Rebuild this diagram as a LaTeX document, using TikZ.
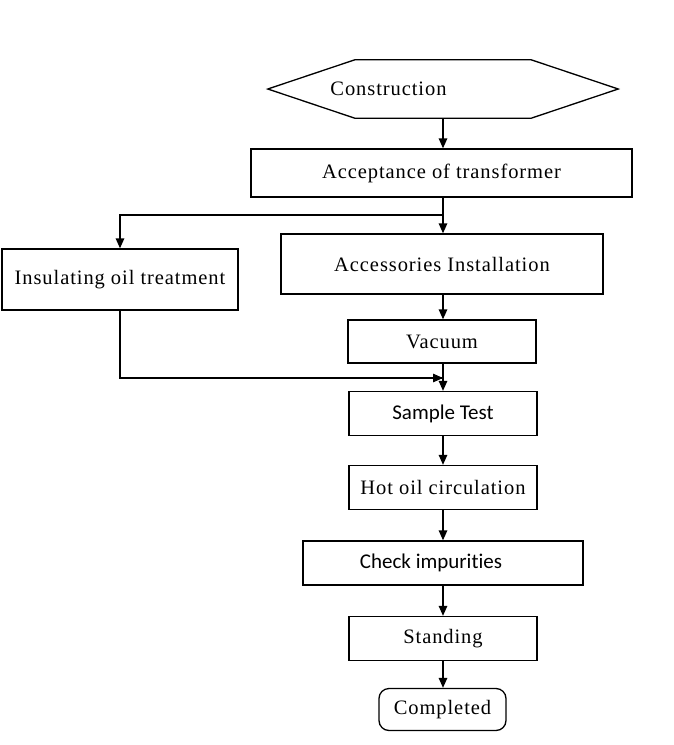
\documentclass[tikz,border=0pt]{standalone}
\usepackage{fontspec}
\setmainfont{Liberation Serif}[LetterSpace=4.5]
\newfontfamily\calfont{Carlito}[Ligatures=NoCommon]
\usetikzlibrary{arrows.meta}
\begin{document}
\begin{tikzpicture}[x=1pt,y=-1pt,
  box/.style={draw, line width=1.3pt, inner sep=0pt, font=\fontsize{20.5}{24}\selectfont},
  cbox/.style={box, font=\calfont\fontsize{21}{24}\selectfont},
  conn/.style={line width=1.3pt, -{Triangle[length=10pt,width=8.5pt]}},
  plain/.style={line width=1.3pt}]
\useasboundingbox (0,0) rectangle (673,745);
% hexagon
\node[minimum width=350pt, minimum height=58pt, inner sep=0pt, font=\fontsize{20.5}{24}\selectfont] (con) at (443,89) {Construction\kern109pt};
\draw[plain] (con.west) -- ([xshift=87pt]con.north west) -- ([xshift=-87pt]con.north east) -- (con.east) -- ([xshift=-87pt]con.south east) -- ([xshift=87pt]con.south west) -- cycle;
\node[box, minimum width=381pt, minimum height=48pt] (acc) at (441.5,173) {Acceptance of transformer};
\node[box, minimum width=236pt, minimum height=61pt] (ins) at (120,279.5) {Insulating oil treatment};
\node[box, minimum width=322pt, minimum height=60pt] (inst) at (442,264) {Accessories Installation};
\node[box, minimum width=188pt, minimum height=43pt] (vac) at (442,341.5) {Vacuum};
\node[cbox, minimum width=188pt, minimum height=44pt] (samp) at (443,413.5) {Sample Test};
\node[box, minimum width=188pt, minimum height=44pt] (hot) at (443,487.5) {Hot oil circulation};
\node[cbox, minimum width=280pt, minimum height=44pt] (chk) at (443,563) {Check impurities\kern24pt};
\node[box, minimum width=188pt, minimum height=44pt] (std) at (443,638.5) {Standing};
\node[box, rounded corners=10pt, minimum width=127pt, minimum height=42pt] (cmp) at (442.5,709.5) {Completed};
\coordinate (br) at (443,215);
\coordinate (mg) at (443,378);
% connectors
\draw[conn] (con.south -| 443,0) -- (acc.north -| 443,0);
\draw[conn] (acc.south -| 443,0) -- (inst.north -| 443,0);
\draw[conn] (br) -| (ins.north);
\draw[conn] (inst.south -| 443,0) -- (vac.north -| 443,0);
\draw[plain] (ins.south) |- (mg);
\draw[conn] ([xshift=-10pt]mg) -- (mg);
\draw[conn] (vac.south -| 443,0) -- (samp.north);
\draw[conn] (samp.south) -- (hot.north);
\draw[conn] (hot.south) -- (chk.north);
\draw[conn] (chk.south) -- (std.north);
\draw[conn] (std.south) -- (std.south |- cmp.north);
\end{tikzpicture}
\end{document}
